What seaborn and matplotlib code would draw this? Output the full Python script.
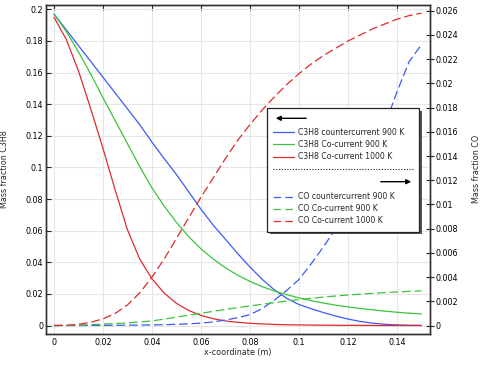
import matplotlib
matplotlib.use("Agg")
import matplotlib.pyplot as plt
import seaborn as sns
import numpy as np
from matplotlib.patches import Rectangle, FancyArrowPatch
from matplotlib.lines import Line2D

# ---------------- data ----------------
x_coord = [0.0, 0.005, 0.01, 0.015, 0.02, 0.025, 0.03, 0.035, 0.04, 0.045,
           0.05, 0.055, 0.06, 0.065, 0.07, 0.075, 0.08, 0.085, 0.09, 0.095,
           0.1, 0.105, 0.11, 0.115, 0.12, 0.125, 0.13, 0.135, 0.14, 0.145, 0.15]

c3h8_counter_900 = [0.197, 0.187, 0.177, 0.167, 0.157, 0.147, 0.137, 0.127, 0.116, 0.1055,
                    0.0955, 0.0845, 0.0735, 0.0635, 0.0545, 0.0455, 0.037, 0.0292, 0.0225, 0.0172,
                    0.0133, 0.0106, 0.0082, 0.006, 0.0041, 0.0026, 0.0015, 0.0008, 0.0004, 0.0002, 0.0001]
c3h8_co_900 = [0.197, 0.186, 0.173, 0.159, 0.144, 0.1295, 0.115, 0.1005, 0.087, 0.0755,
               0.0652, 0.0562, 0.0485, 0.042, 0.0365, 0.0318, 0.0279, 0.0246, 0.0218, 0.0195,
               0.0175, 0.0157, 0.0142, 0.0129, 0.0118, 0.0108, 0.0099, 0.0091, 0.0084, 0.0078, 0.0073]
c3h8_co_1000 = [0.195, 0.181, 0.161, 0.137, 0.112, 0.0855, 0.0605, 0.042, 0.0295, 0.0205,
                0.014, 0.0095, 0.0064, 0.0043, 0.0029, 0.002, 0.0014, 0.001, 0.0007, 0.0005,
                0.0004, 0.0003, 0.0002, 0.00015, 0.0001, 0.0001, 0.00005, 0.0, 0.0, 0.0, 0.0]

co_counter_900 = [0.0, 0.0, 0.0, 0.00001, 0.00001, 0.00002, 0.00003, 0.00004, 0.00005, 0.00007,
                  0.0001, 0.00014, 0.0002, 0.0003, 0.00045, 0.00065, 0.0009, 0.0014, 0.0021, 0.0029,
                  0.0038, 0.0051, 0.0065, 0.008, 0.0098, 0.0118, 0.014, 0.0165, 0.0193, 0.0218, 0.0232]
co_co_900 = [0.0, 0.00001, 0.00003, 0.00007, 0.00012, 0.00016, 0.00022, 0.00029, 0.00038, 0.00053,
             0.0007, 0.00086, 0.00101, 0.00117, 0.00133, 0.00148, 0.00162, 0.00176, 0.00189, 0.00202,
             0.00214, 0.00225, 0.00235, 0.00244, 0.00252, 0.00259, 0.00266, 0.00272, 0.00277, 0.00282, 0.00287]
co_co_1000 = [0.0, 0.00002, 0.0001, 0.00027, 0.00055, 0.001, 0.0017, 0.0027, 0.004, 0.0055,
              0.0072, 0.0089, 0.0106, 0.0122, 0.0138, 0.0153, 0.0166, 0.0178, 0.0189, 0.0199,
              0.0208, 0.0216, 0.0223, 0.0229, 0.0235, 0.024, 0.0245, 0.0249, 0.0253, 0.0256, 0.0258]

left_labels = ["C3H8 countercurrent 900 K", "C3H8 Co-current 900 K", "C3H8 Co-current 1000 K"]
right_labels = ["CO countercurrent 900 K", "CO Co-current 900 K", "CO Co-current 1000 K"]

x_ticks = [0, 0.02, 0.04, 0.06, 0.08, 0.1, 0.12, 0.14]
x_ticklabels = ["0", "0.02", "0.04", "0.06", "0.08", "0.1", "0.12", "0.14"]
left_ticks = [0, 0.02, 0.04, 0.06, 0.08, 0.1, 0.12, 0.14, 0.16, 0.18, 0.2]
left_ticklabels = ["0", "0.02", "0.04", "0.06", "0.08", "0.1", "0.12", "0.14", "0.16", "0.18", "0.2"]
right_ticks = [0, 0.002, 0.004, 0.006, 0.008, 0.01, 0.012, 0.014, 0.016, 0.018, 0.02, 0.022, 0.024, 0.026]
right_ticklabels = ["0", "0.002", "0.004", "0.006", "0.008", "0.01", "0.012", "0.014", "0.016",
                    "0.018", "0.02", "0.022", "0.024", "0.026"]

colors = ["#3b5cf6", "#3cc43c", "#e02b2b"]
DASH = (0, (7, 3))
FS = 5.8

# ---------------- figure ----------------
sns.set_theme(style="white")
plt.rcParams["font.family"] = ["DejaVu Sans"]
plt.rcParams["font.size"] = FS

W, H = 483, 373
fig = plt.figure(figsize=(W / 100, H / 100), dpi=100)
ax = fig.add_axes([46 / W, 1 - 334 / H, 384 / W, 329.3 / H])
ax2 = ax.twinx()

for ys, c in zip([c3h8_counter_900, c3h8_co_900, c3h8_co_1000], colors):
    sns.lineplot(x=x_coord, y=ys, ax=ax, color=c, linewidth=0.9, estimator=None, sort=False)
for ys, c in zip([co_counter_900, co_co_900, co_co_1000], colors):
    sns.lineplot(x=x_coord, y=ys, ax=ax2, color=c, linewidth=0.9, estimator=None, sort=False,
                 linestyle=DASH)

ax.set_xlim(-0.00327, 0.1535)
ax.set_ylim(-0.00536, 0.2029)
ax2.set_ylim(-0.0007, 0.0265)

ax.set_xticks(x_ticks)
ax.set_xticklabels(x_ticklabels)
ax.set_yticks(left_ticks)
ax.set_yticklabels(left_ticklabels)
ax2.set_yticks(right_ticks)
ax2.set_yticklabels(right_ticklabels)

ax.grid(True, color="#e6e6e6", linewidth=0.8)
ax.set_axisbelow(True)
ax2.grid(False)

ax.tick_params(axis="both", direction="in", length=3.5, width=0.8, labelsize=FS, pad=2,
               colors="#222222", labelcolor="black")
ax.tick_params(axis="x", top=True, pad=3)
ax2.tick_params(axis="y", direction="inout", length=6, width=0.8, labelsize=FS, pad=1,
                colors="#222222", labelcolor="black")

for a in (ax, ax2):
    for s in a.spines.values():
        s.set_color("#333333")
        s.set_linewidth(1.0)

ax.set_xlabel("x-coordinate (m)", fontsize=FS)
ax.set_ylabel("Mass fraction C3H8", fontsize=FS)
ax2.set_ylabel("Mass fraction CO", fontsize=FS)
ax.xaxis.set_label_coords(0.5, -0.042)
ax.yaxis.set_label_coords(-0.097, 0.5)
ax2.yaxis.set_label_coords(1.11, 0.5)

# ---------------- legend (drawn as figure decorations) ----------------
def fx(px):
    return px / W


def fy(py):
    return 1 - py / H


L, R, T, B = 267.3, 419.3, 108.3, 231.7
fig.add_artist(Rectangle((fx(L + 2.5), fy(B + 2.5)), (R - L) / W, (B - T) / H,
                         transform=fig.transFigure, facecolor="#555555", edgecolor="none", zorder=5))
fig.add_artist(Rectangle((fx(L), fy(B)), (R - L) / W, (B - T) / H,
                         transform=fig.transFigure, facecolor="white", edgecolor="#222222",
                         linewidth=0.9, zorder=6))

fig.add_artist(FancyArrowPatch((fx(309), fy(118.3)), (fx(273), fy(118.3)), transform=fig.transFigure,
                               arrowstyle="-|>", mutation_scale=7, linewidth=1.0, color="black", zorder=7))
fig.add_artist(FancyArrowPatch((fx(378), fy(181.7)), (fx(414), fy(181.7)), transform=fig.transFigure,
                               arrowstyle="-|>", mutation_scale=7, linewidth=1.0, color="black", zorder=7))
fig.add_artist(Line2D([fx(273), fx(413)], [fy(169.3), fy(169.3)], transform=fig.transFigure,
                      color="#222222", linewidth=0.8, linestyle=(0, (1, 1.5)), zorder=7))

for i, (lab, c) in enumerate(zip(left_labels, colors)):
    yy = [132.3, 144.5, 156.7][i]
    fig.add_artist(Line2D([fx(273.3), fx(293.5)], [fy(yy), fy(yy)], transform=fig.transFigure,
                          color=c, linewidth=0.9, zorder=7))
    fig.text(fx(298.3), fy(yy), lab, fontsize=5.6, va="center", ha="left", zorder=7)
for i, (lab, c) in enumerate(zip(right_labels, colors)):
    yy = [196.7, 208.5, 220.7][i]
    fig.add_artist(Line2D([fx(273.3), fx(293.5)], [fy(yy), fy(yy)], transform=fig.transFigure,
                          color=c, linewidth=0.9, linestyle=(0, (6, 3.5)), zorder=7))
    fig.text(fx(298.3), fy(yy), lab, fontsize=5.6, va="center", ha="left", zorder=7)

fig.savefig("out.png", dpi=100)
